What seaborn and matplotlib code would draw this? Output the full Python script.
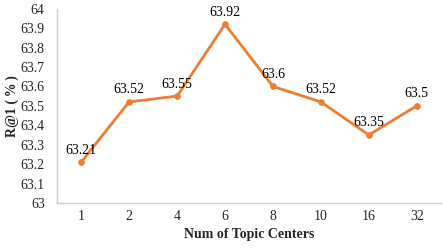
import matplotlib
matplotlib.use('Agg')
import matplotlib.pyplot as plt
import seaborn as sns
import pandas as pd

# ── Data ──
centers = ['1', '2', '4', '6', '8', '10', '16', '32']
r_at_1 = [63.21, 63.52, 63.55, 63.92, 63.6, 63.52, 63.35, 63.5]
value_labels = ['63.21', '63.52', '63.55', '63.92', '63.6', '63.52', '63.35', '63.5']
y_ticks = [63, 63.1, 63.2, 63.3, 63.4, 63.5, 63.6, 63.7, 63.8, 63.9, 64]
y_tick_labels = ['63', '63.1', '63.2', '63.3', '63.4', '63.5', '63.6', '63.7', '63.8', '63.9', '64']

df = pd.DataFrame({'centers': centers, 'r1': r_at_1})

sns.set_style('white')
plt.rcParams['font.family'] = ['Liberation Serif', 'DejaVu Serif']

fig, ax = plt.subplots(figsize=(4.43, 2.49), dpi=100)
fig.subplots_adjust(left=0.129, right=0.995, top=0.965, bottom=0.185)

color = '#ED7D31'
sns.lineplot(data=df, x='centers', y='r1', sort=False, ax=ax,
             color=color, linewidth=2.0, marker='o', markersize=4,
             markeredgecolor=color)

# value labels above each point
for i, (v, lab) in enumerate(zip(r_at_1, value_labels)):
    ax.annotate(lab, (i, v), xytext=(0, 4), textcoords='offset points',
                ha='center', va='bottom', fontsize=10, color='black')

ax.set_xlim(-0.5, len(centers) - 0.5)
ax.set_ylim(63, 64)
ax.set_yticks(y_ticks)
ax.set_yticklabels(y_tick_labels)
ax.tick_params(axis='y', labelsize=10, length=0, pad=9)
ax.tick_params(axis='x', labelsize=10, length=0, pad=5)

ax.set_xlabel('Num of Topic Centers', fontsize=10, fontweight='bold', labelpad=4)
ax.set_ylabel('R@1 (\u2009%\u2009)', fontsize=10, fontweight='bold', labelpad=1)

sns.despine(ax=ax)
for s in ['left', 'bottom']:
    ax.spines[s].set_color('#d0d0d0')
    ax.spines[s].set_linewidth(1.0)

fig.savefig('out.png', dpi=100)
